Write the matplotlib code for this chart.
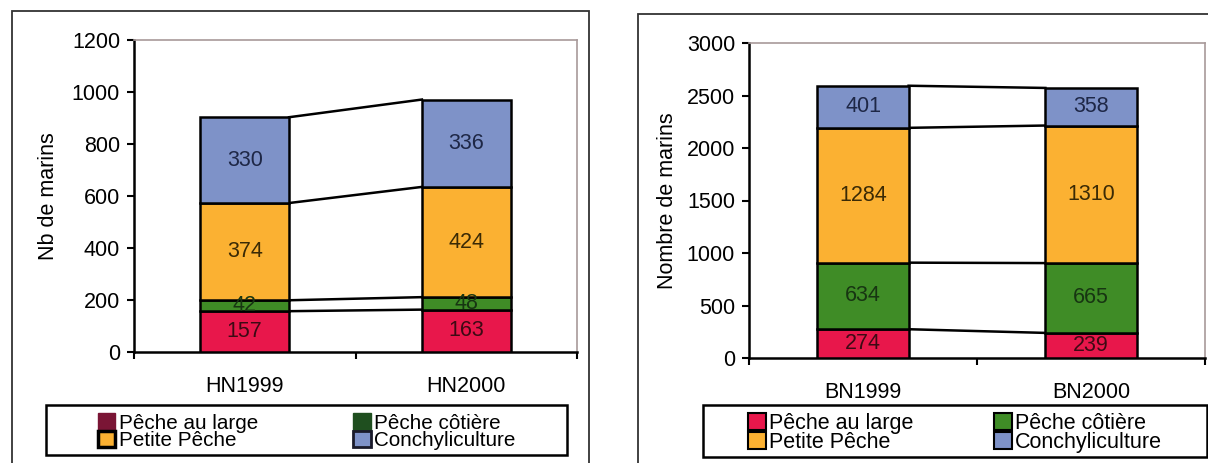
import matplotlib
matplotlib.use("Agg")
import matplotlib.pyplot as plt
from matplotlib.patches import Rectangle, Patch

plt.rcParams['font.family'] = ['Liberation Sans', 'DejaVu Sans']

# Stacked series, bottom to top
series_names = ["Pêche au large", "Pêche côtière", "Petite Pêche", "Conchyliculture"]

hn_years = ["HN1999", "HN2000"]
hn_large = [157, 163]
hn_cotiere = [42, 48]
hn_petite = [374, 424]
hn_conchy = [330, 336]
hn_ticks = [0, 200, 400, 600, 800, 1000, 1200]

bn_years = ["BN1999", "BN2000"]
bn_large = [274, 239]
bn_cotiere = [634, 665]
bn_petite = [1284, 1310]
bn_conchy = [401, 358]
bn_ticks = [0, 500, 1000, 1500, 2000, 2500, 3000]

bar_colors = ["#E8174B", "#3F8C26", "#FBB132", "#7E92C8"]
text_colors = ["#3d0a14", "#173512", "#3a2a05", "#1e2746"]

W, H = 1208, 463
fig = plt.figure(figsize=(W / 100, H / 100), dpi=100)


def fig_rect(x0, y0, x1, y1):
    """Pixel box (top-left origin) to figure fraction [l, b, w, h]."""
    return [x0 / W, 1 - y1 / H, (x1 - x0) / W, (y1 - y0) / H]


def panel(rect, cats, stacks, yticks, ylabel, fs, ylabelpad, xpad):
    ax = fig.add_axes(rect)
    width = 0.4
    x = list(range(len(cats)))
    bottoms = [0] * len(cats)
    tops_per_series = []
    for vals, col, tcol in zip(stacks, bar_colors, text_colors):
        ax.bar(x, vals, width=width, bottom=bottoms, color=col,
               edgecolor="black", linewidth=1.8, zorder=3)
        for xi, v, b in zip(x, vals, bottoms):
            ax.text(xi, b + v / 2, str(v), ha="center", va="center",
                    fontsize=fs, color=tcol, zorder=4)
        bottoms = [b + v for b, v in zip(bottoms, vals)]
        tops_per_series.append(list(bottoms))
    # series lines joining the segment tops
    for tops in tops_per_series:
        ax.plot([x[0] + width / 2, x[1] - width / 2], [tops[0], tops[1]],
                color="black", linewidth=1.8, zorder=2)
    ax.set_xlim(-0.5, len(cats) - 0.5)
    ax.set_ylim(yticks[0], yticks[-1])
    ax.set_yticks(yticks)
    ax.set_xticks(x)
    ax.set_xticklabels(cats)
    ax.set_xticks([-0.5, 0.5, 1.5], minor=True)
    ax.tick_params(axis="x", which="major", length=0, pad=xpad, labelsize=fs)
    ax.tick_params(axis="x", which="minor", length=5, width=1.5,
                   direction="out", color="black")
    ax.tick_params(axis="y", length=5, width=1.5, direction="out",
                   pad=5, labelsize=fs)
    for side in ("left", "bottom"):
        ax.spines[side].set_color("black")
        ax.spines[side].set_linewidth(1.8)
    for side in ("top", "right"):
        ax.spines[side].set_color("#a89a9a")
        ax.spines[side].set_linewidth(1.2)
    ax.set_ylabel(ylabel, fontsize=fs, labelpad=ylabelpad)
    ax.set_facecolor("white")
    return ax


# Left panel: Haute-Normandie
panel(fig_rect(134, 40, 577, 352), hn_years,
      [hn_large, hn_cotiere, hn_petite, hn_conchy],
      hn_ticks, "Nb de marins", 15.5, 9, 17)

# Right panel: Basse-Normandie
panel(fig_rect(749, 43, 1205, 358), bn_years,
      [bn_large, bn_cotiere, bn_petite, bn_conchy],
      bn_ticks, "Nombre de marins", 15.5, 6, 17)

# Outer chart frames
for (x0, y0, x1, y1) in [(12, 11, 589, 475), (638, 14, 1220, 475)]:
    r = fig_rect(x0, y0, x1, y1)
    fig.patches.append(Rectangle((r[0], r[1]), r[2], r[3],
                                 transform=fig.transFigure, fill=False,
                                 edgecolor="#333333", linewidth=1.3,
                                 clip_on=False))


def legend_box(x0, y0, x1, y1, handles, fs, colspace):
    r = fig_rect(x0, y0, x1, y1)
    fig.patches.append(Rectangle((r[0], r[1]), r[2], r[3],
                                 transform=fig.transFigure, fill=False,
                                 edgecolor="black", linewidth=1.8,
                                 clip_on=False))
    fig.legend(handles=handles, loc="center", ncol=2,
               bbox_to_anchor=(r[0] + r[2] / 2, r[1] + r[3] / 2 - 0.004),
               frameon=False, fontsize=fs, handlelength=0.85,
               handleheight=0.85, handletextpad=0.15, labelspacing=-0.1,
               columnspacing=colspace, borderpad=0, borderaxespad=0)


# Left legend (its swatches keep their own shades)
left_handles = [
    Patch(facecolor="#7A1535", edgecolor="#7A1535", label=series_names[0]),
    Patch(facecolor="#FBB132", edgecolor="black", linewidth=2.5, label=series_names[2]),
    Patch(facecolor="#1F4F1F", edgecolor="#1F4F1F", label=series_names[1]),
    Patch(facecolor="#7E92C8", edgecolor="#1a1a2a", linewidth=2.0, label=series_names[3]),
]
legend_box(46, 405, 567, 455, left_handles, 14.9, 4.6)

right_handles = [
    Patch(facecolor=bar_colors[0], edgecolor="black", linewidth=1.5, label=series_names[0]),
    Patch(facecolor=bar_colors[2], edgecolor="black", linewidth=1.5, label=series_names[2]),
    Patch(facecolor=bar_colors[1], edgecolor="black", linewidth=1.5, label=series_names[1]),
    Patch(facecolor=bar_colors[3], edgecolor="black", linewidth=1.5, label=series_names[3]),
]
legend_box(703, 405, 1207, 457, right_handles, 15.5, 3.7)

fig.savefig("out.png", dpi=100, facecolor="white")
